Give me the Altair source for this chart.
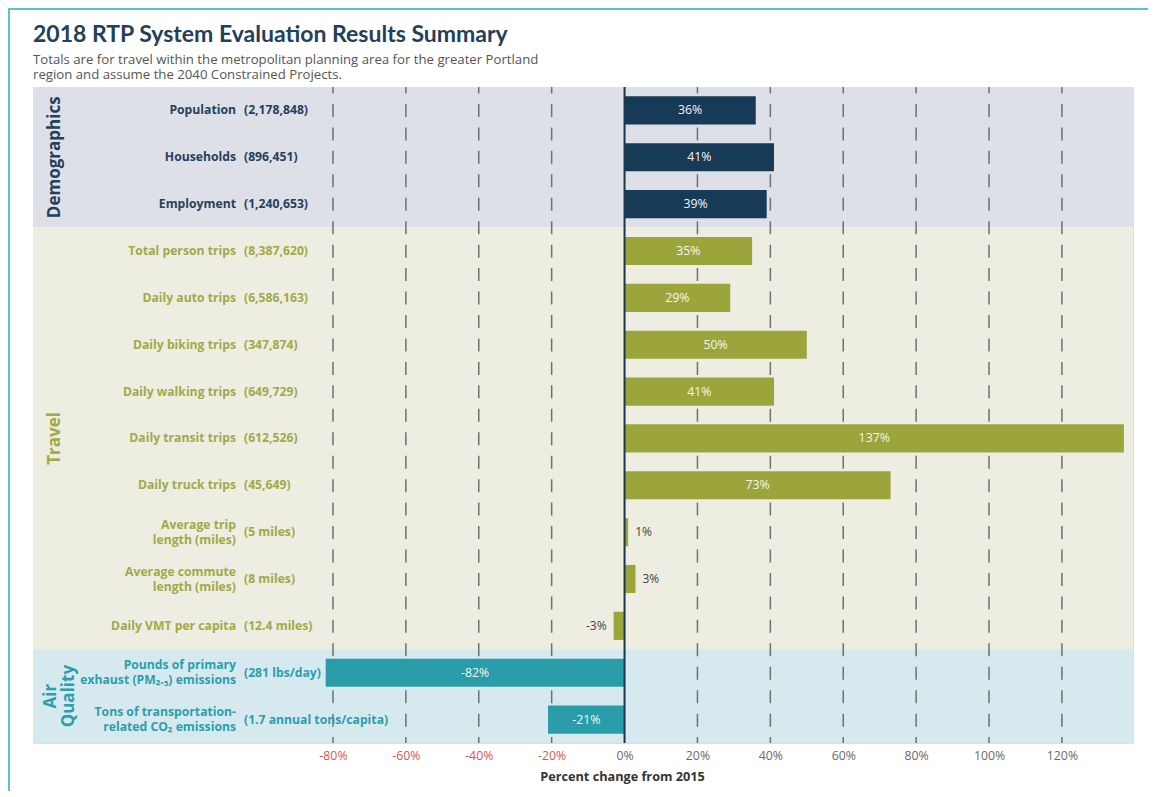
import altair as alt
import pandas as pd

# ---------------- data ----------------
title_text = ["2018 RTP System Evaluation Results Summary"]
subtitle_text = ["Totals are for travel within the metropolitan planning area for the greater Portland\nregion and assume the 2040 Constrained Projects."]

names = [
    "Population", "Households", "Employment",
    "Total person trips", "Daily auto trips", "Daily biking trips",
    "Daily walking trips", "Daily transit trips", "Daily truck trips",
    "Average trip\nlength (miles)", "Average commute\nlength (miles)",
    "Daily VMT per capita",
    "Pounds of primary\nexhaust (PM\u2082.\u2085) emissions",
    "Tons of transportation-\nrelated CO\u2082 emissions",
]
totals = [
    "(2,178,848)", "(896,451)", "(1,240,653)",
    "(8,387,620)", "(6,586,163)", "(347,874)",
    "(649,729)", "(612,526)", "(45,649)",
    "(5 miles)", "(8 miles)", "(12.4 miles)",
    "(281 lbs/day)", "(1.7 annual tons/capita)",
]
pct = [36, 41, 39, 35, 29, 50, 41, 137, 73, 1, 3, -3, -82, -21]
groups = ["Demographics"] * 3 + ["Travel"] * 9 + ["Air Quality"] * 2

group_names = ["Demographics", "Travel", "Air Quality"]
group_titles = ["Demographics", "Travel", "Air\nQuality"]
group_start = [0, 3, 12]
group_end = [3, 12, 14]

grid_values = [-80, -60, -40, -20, 20, 40, 60, 80, 100, 120]
tick_values = [-80, -60, -40, -20, 0, 20, 40, 60, 80, 100, 120]

# ---------------- styles ----------------
W, H = 1100, 656
XDOM = [-162.3, 139.5]
FONT = "Open Sans"
TFONT = "Lato"
bar_colors = ["#173a56", "#9ba53b", "#2a9dab"]
label_colors = ["#26405c", "#a2a947", "#2c9eac"]
bg_colors = ["#dde0e7", "#eeede1", "#d6e9ef"]

df = pd.DataFrame({"row": list(range(len(names))), "name": names,
                   "total": totals, "pct": pct, "group": groups})
df["nlines"] = [n.count("\n") + 1 for n in names]
gdf = pd.DataFrame({"group": group_names, "title": group_titles,
                    "start": group_start, "end": group_end})
gdf["mid"] = (gdf["start"] + gdf["end"]) / 2
gdf["nlines"] = [t.count("\n") + 1 for t in group_titles]
grid_df = pd.DataFrame({"v": grid_values})
zero_df = pd.DataFrame({"v": [0]})

xs = alt.Scale(domain=XDOM, nice=False, zero=False)
ys = alt.Scale(domain=list(range(len(names))), paddingInner=0.4, paddingOuter=0.2)
yq = alt.Scale(domain=[0, 14], reverse=True, nice=False, zero=False)

xaxis = alt.Axis(
    values=tick_values, labelExpr="datum.value + '%'", domain=False,
    ticks=False, grid=False, labelFont=FONT, labelFontSize=12.3,
    labelColor={"condition": {"test": "datum.value < 0", "value": "#d4564f"},
                "value": "#6a6a6a"},
    labelPadding=6, title="Percent change from 2015", titleFont=FONT,
    titleFontSize=12.7, titleFontWeight="bold", titleColor="#333333",
    titleX=589, titleY=27, titleBaseline="top",
)

gcolor = alt.Color("group:N", scale=alt.Scale(domain=group_names, range=label_colors), legend=None)

def Y():
    return alt.Y("row:O", scale=ys, axis=None)

bg = alt.Chart(gdf).mark_rect().encode(
    x=alt.value(0), x2=alt.value(W),
    y=alt.Y("start:Q", scale=yq, axis=None), y2="end:Q",
    fill=alt.Fill("group:N", scale=alt.Scale(domain=group_names, range=bg_colors), legend=None),
)

gtitle_style = dict(angle=270, fontSize=17, fontWeight="bold", font=FONT, lineBreak="\n",
                    align="center", baseline="middle", lineHeight=18)
gtitles1 = alt.Chart(gdf).transform_filter("datum.nlines == 1").mark_text(**gtitle_style).encode(
    x=alt.value(21.5), y=alt.Y("mid:Q", scale=yq, axis=None), text="title:N", color=gcolor)
gtitles2 = alt.Chart(gdf).transform_filter("datum.nlines > 1").mark_text(**gtitle_style).encode(
    x=alt.value(18), y=alt.Y("mid:Q", scale=yq, axis=None), text="title:N", color=gcolor)

grid = alt.Chart(grid_df).mark_rule(
    color="#707070", strokeWidth=1.5, strokeDash=[13, 10.45], strokeDashOffset=6.5,
).encode(x=alt.X("v:Q", scale=xs, axis=xaxis))

bars = alt.Chart(df).mark_bar().encode(
    x=alt.X("pct:Q", scale=xs, axis=xaxis),
    y=Y(),
    color=alt.Color("group:N", scale=alt.Scale(domain=group_names, range=bar_colors), legend=None),
)

zero = alt.Chart(zero_df).mark_rule(color="#1d3650", strokeWidth=2).encode(
    x=alt.X("v:Q", scale=xs, axis=xaxis))

inside = alt.Chart(df).transform_filter("abs(datum.pct) >= 5").transform_calculate(
    mid="datum.pct / 2", lab="datum.pct + '%'"
).mark_text(color="#f6f6ee", fontSize=12.3, font=FONT, baseline="middle", align="center").encode(
    x=alt.X("mid:Q", scale=xs, axis=xaxis), y=Y(), text="lab:N",
)

small_pos = alt.Chart(df).transform_filter("abs(datum.pct) < 5 && datum.pct > 0").transform_calculate(
    lab="datum.pct + '%'"
).mark_text(color="#444444", fontSize=12, font=FONT, baseline="middle", align="left", dx=7).encode(
    x=alt.X("pct:Q", scale=xs, axis=xaxis), y=Y(), text="lab:N",
)

small_neg = alt.Chart(df).transform_filter("abs(datum.pct) < 5 && datum.pct < 0").transform_calculate(
    lab="datum.pct + '%'"
).mark_text(color="#444444", fontSize=12, font=FONT, baseline="middle", align="right", dx=-7).encode(
    x=alt.X("pct:Q", scale=xs, axis=xaxis), y=Y(), text="lab:N",
)

lbl_style = dict(align="right", baseline="middle", fontWeight="bold", fontSize=12.2, font=FONT,
                 lineBreak="\n", lineHeight=15)
name_lbl1 = alt.Chart(df).transform_filter("datum.nlines == 1").mark_text(**lbl_style).encode(
    x=alt.value(203), y=Y(), text="name:N", color=gcolor)
name_lbl2 = alt.Chart(df).transform_filter("datum.nlines > 1").mark_text(dy=-7.5, **lbl_style).encode(
    x=alt.value(203), y=Y(), text="name:N", color=gcolor)

total_lbl = alt.Chart(df).mark_text(
    align="left", baseline="middle", fontWeight="bold", fontSize=12.2, font=FONT,
).encode(x=alt.value(211), y=Y(), text="total:N", color=gcolor)

title_mark = alt.Chart(pd.DataFrame({"t": title_text})).mark_text(
    align="left", baseline="alphabetic", font=TFONT, fontSize=23, fontWeight="bold",
    color="#23405a",
).encode(x=alt.value(0), y=alt.value(-45), text="t:N")

subtitle_mark = alt.Chart(pd.DataFrame({"t": subtitle_text})).mark_text(
    align="left", baseline="alphabetic", font=FONT, fontSize=13.2, color="#555555",
    lineBreak="\n", lineHeight=15,
).encode(x=alt.value(0), y=alt.value(-23), text="t:N")

frame_top = alt.Chart(zero_df).mark_rule(color="#5cc0d8", strokeWidth=2).encode(
    x=alt.value(-25), x2=alt.value(W + 15), y=alt.value(-78))
frame_left = alt.Chart(zero_df).mark_rule(color="#5cc0d8", strokeWidth=2).encode(
    x=alt.value(-24), y=alt.value(-78), y2=alt.value(H + 60))

chart = alt.layer(
    bg, gtitles1, gtitles2, grid, bars, zero, inside, small_pos, small_neg,
    name_lbl1, name_lbl2, total_lbl, title_mark, subtitle_mark, frame_top, frame_left,
).resolve_scale(
    y="independent", color="independent", fill="independent"
).properties(
    width=W, height=H, autosize="none",
    padding={"left": 25, "top": 79, "right": 15, "bottom": 48},
).configure_view(stroke="#4a5866", strokeWidth=2).configure(background="white")

chart.save("out.html", embed_options={"renderer": "svg", "actions": False})
